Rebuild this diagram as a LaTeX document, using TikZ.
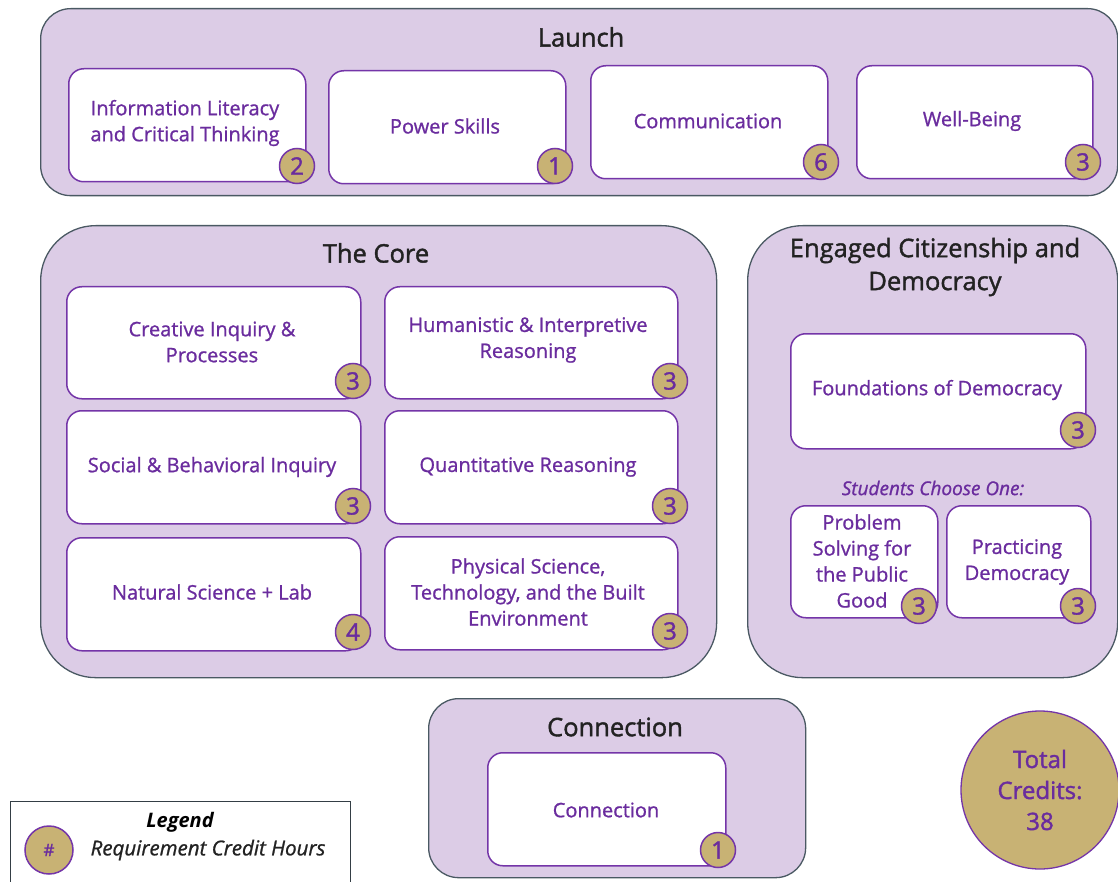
\documentclass[tikz,border=0pt]{standalone}
\usepackage{fontspec}
\setmainfont{Open Sans}
\newfontfamily\medfont{Open Sans}[FakeBold=1.0]
\newfontfamily\semfont{Open Sans}[FakeBold=1.5]
\definecolor{lav}{HTML}{DCCCE6}
\definecolor{edgec}{HTML}{4A5963}
\definecolor{purp}{HTML}{7435A8}
\definecolor{ptxt}{HTML}{6A2C9E}
\definecolor{gold}{HTML}{C8B274}
\definecolor{ttl}{HTML}{222222}
\begin{document}
\begin{tikzpicture}[x=1pt,y=-1pt,
  container/.style={draw=edgec, line width=1.3pt, fill=lav, rounded corners=#1, anchor=north west, inner sep=0},
  cbox/.style={draw=purp, line width=1.5pt, fill=white, rounded corners=15pt, anchor=north west, inner sep=0},
  badge/.style={circle, draw=purp, line width=1.5pt, fill=gold, minimum size=35pt, inner sep=0,
    text=ptxt, font=\semfont\fontsize{24}{24}\selectfont},
  title/.style={text=ttl, font=\semfont\fontsize{25.5}{33}\selectfont, align=center},
  btext/.style={text=ptxt, align=center, font=\medfont\fontsize{20}{26}\selectfont},
]
\useasboundingbox (0,0) rectangle (1118,882);
\clip (0,0) rectangle (1118,882);
\fill[white] (0,0) rectangle (1118,882);

% Launch
\node[container=30pt, minimum width=1077pt, minimum height=187pt] (launch) at (40,8) {};
\node[title] (launcht) at (581,37) {Launch};
\node[cbox, minimum width=237pt, minimum height=113pt] (il) at (68,68) {};
\node[btext] (ilt) at (185,123) {Information Literacy\\and Critical Thinking};
\node[badge] (ilb) at (297,166) {2};
\node[cbox, minimum width=237pt, minimum height=113pt] (ps) at (328,70) {};
\node[btext] (pst) at (445,126) {Power Skills};
\node[badge] (psb) at (555,166) {1};
\node[cbox, minimum width=237pt, minimum height=113pt] (co) at (590,65) {};
\node[btext] (cot) at (708,121) {Communication};
\node[badge] (cob) at (821,162) {6};
\node[cbox, minimum width=236pt, minimum height=113pt] (wb) at (856,65) {};
\node[btext] (wbt) at (972,121) {Well-Being};
\node[badge] (wbb) at (1083,162) {3};

% The Core
\node[container=55pt, minimum width=676pt, minimum height=452pt] (core) at (40,225) {};
\node[title] (coret) at (376,253) {The Core};
\node[cbox, minimum width=294pt, minimum height=112pt] (ci) at (66,286) {};
\node[btext] (cit) at (212,342) {Creative Inquiry \&\\Processes};
\node[badge] (cib) at (353,381) {3};
\node[cbox, minimum width=293pt, minimum height=112pt] (hi) at (384,286) {};
\node[btext] (hit) at (528,340) {Humanistic \& Interpretive\\Reasoning};
\node[badge] (hib) at (670,381) {3};
\node[cbox, minimum width=294pt, minimum height=113pt] (sb) at (66,410) {};
\node[btext] (sbt) at (212,467) {Social \& Behavioral Inquiry};
\node[badge] (sbb) at (353,506) {3};
\node[cbox, minimum width=293pt, minimum height=113pt] (qr) at (384,410) {};
\node[btext] (qrt) at (528,467) {Quantitative Reasoning};
\node[badge] (qrb) at (670,506) {3};
\node[cbox, minimum width=294pt, minimum height=113pt] (ns) at (66,537) {};
\node[btext] (nst) at (212,592) {Natural Science + Lab};
\node[badge] (nsb) at (353,632) {4};
\node[cbox, minimum width=293pt, minimum height=113pt] (pt) at (384,536) {};
\node[btext] (ptt) at (528,592) {Physical Science,\\Technology, and the Built\\Environment};
\node[badge] (ptb) at (670,631) {3};

% Engaged Citizenship
\node[container=55pt, minimum width=370pt, minimum height=452pt] (ecd) at (747,225) {};
\node[title] (ecdt) at (935,267) {Engaged Citizenship and\\Democracy};
\node[cbox, minimum width=295pt, minimum height=115pt] (fd) at (790,333) {};
\node[btext] (fdt) at (937,390) {Foundations of Democracy};
\node[badge] (fdb) at (1078,430) {3};
\node[btext, font=\medfont\fontsize{19}{26}\selectfont\itshape] (sco) at (933,488) {Students Choose One:};
\node[cbox, minimum width=147pt, minimum height=112pt] (psp) at (790,505) {};
\node[btext] (pspt) at (862,561) {Problem\\Solving for\\the Public\\Good};
\node[badge] (pspb) at (919,606) {3};
\node[cbox, minimum width=144pt, minimum height=112pt] (pd) at (946,505) {};
\node[btext] (pdt) at (1017,562) {Practicing\\Democracy};
\node[badge] (pdb) at (1078,606) {3};

% Connection
\node[container=30pt, minimum width=377pt, minimum height=179pt] (conn) at (428,698) {};
\node[title] (connt) at (615,727) {Connection};
\node[cbox, minimum width=238pt, minimum height=113pt] (cn) at (487,752) {};
\node[btext] (cnt) at (606,810) {Connection};
\node[badge] (cnb) at (718,850) {1};

% Total credits
\node[circle, draw=purp, line width=1.3pt, fill=gold, minimum size=158pt, inner sep=0,
  text=ptxt, align=center, font=\semfont\fontsize{24}{31}\selectfont] (total) at (1040,790) {Total\\Credits:\\38};

% Legend
\node[draw=edgec!70!black, line width=1.2pt, fill=white, anchor=north west, minimum width=340pt, minimum height=100pt, inner sep=0] (leg) at (10,801) {};
\node[text=black, font=\fontsize{20}{22}\selectfont\bfseries\itshape] (legt) at (180,822) {Legend};
\node[badge, minimum size=48pt, font=\semfont\fontsize{17}{17}\selectfont] (legb) at (49,850) {\#};
\node[text=ttl, font=\medfont\fontsize{20.5}{22}\selectfont\itshape] (legl) at (208,850) {Requirement Credit Hours};
\end{tikzpicture}
\end{document}
